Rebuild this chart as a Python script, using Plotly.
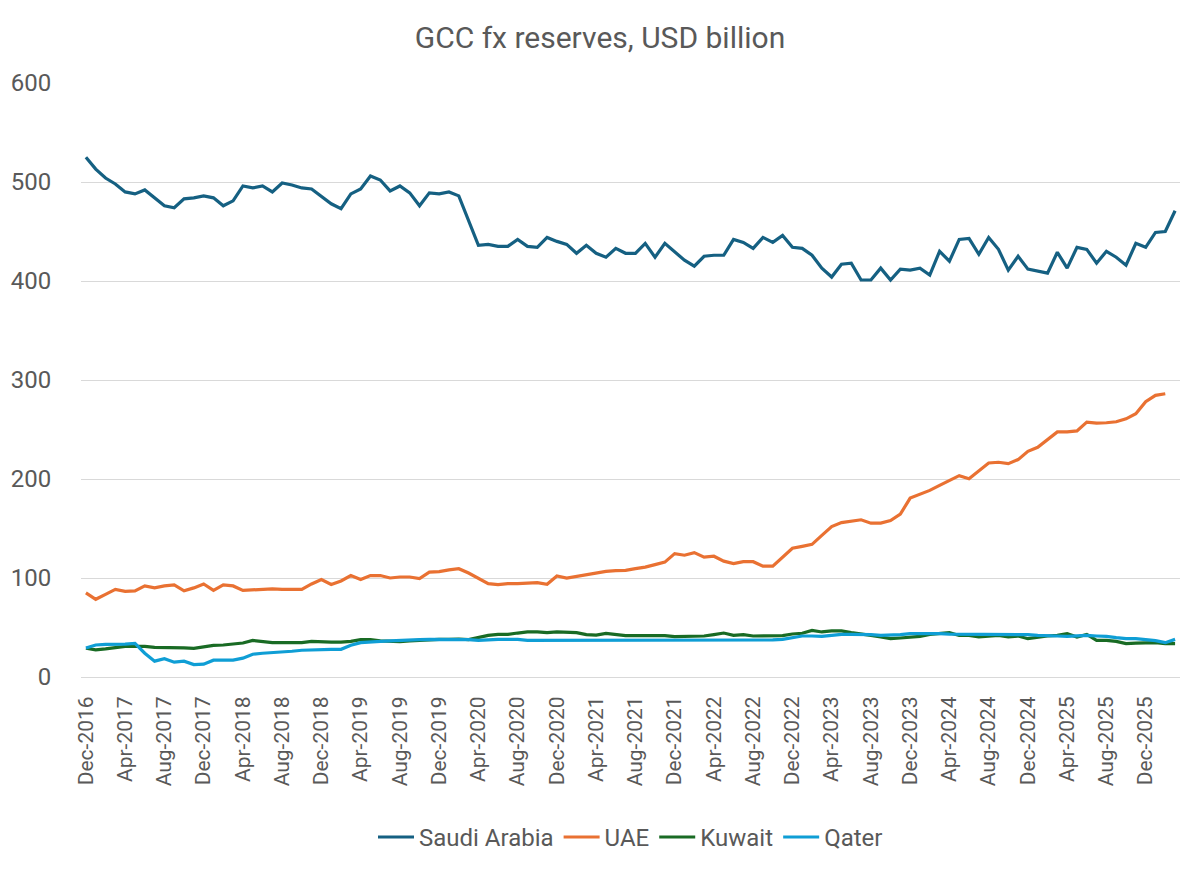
import pandas as pd
import plotly.graph_objects as go

# monthly observations, Dec-2016 .. Mar-2026
months = pd.date_range("2016-12-01", periods=112, freq="MS").strftime("%b-%Y").tolist()

saudi = [525, 513, 504, 498, 490, 488, 492, 484, 476, 474,
         483, 484, 486, 484, 476, 481, 496, 494, 496, 490,
         499, 497, 494, 493, 485, 478, 473, 488, 493, 506,
         502, 491, 496, 489, 476, 489, 488, 490, 486, 462,
         436, 437, 435, 435, 442, 435, 434, 444, 440, 437,
         428, 436, 428, 424, 433, 428, 428, 438, 424, 438,
         429, 421, 415, 425, 426, 426, 442, 439, 433, 444,
         439, 446, 434, 433, 426, 413, 404, 417, 418, 401,
         401, 413, 401, 412, 411, 413, 406, 430, 420, 442,
         443, 427, 444, 432, 411, 425, 412, 410, 408, 429,
         413, 434, 432, 418, 430, 424, 416, 438, 434, 449,
         450, 471]

uae = [85, 78.5, 83.5, 88.5, 86.5, 87, 92, 90, 92, 93,
       87, 90, 94, 87.5, 93, 92, 87.5, 88, 89, 89,
       88.5, 88.5, 88.5, 94, 98.5, 93.5, 97, 102.5, 98.5, 102.5,
       102.5, 100, 101, 101, 99.5, 106, 106.5, 108.2, 109.4, 105,
       99.3, 94.3, 93.3, 94.3, 94.3, 95, 95.3, 93.6, 102, 100,
       101.7, 103.7, 105, 106.7, 107.4, 107.7, 109.4, 111, 113.5, 116,
       124.6, 123, 125.6, 121, 122, 117, 114.5, 116.5, 116.5, 112,
       112, 120.5, 130, 132, 134, 143, 152, 156, 157, 158.8,
       155.4, 155.4, 158, 164.5, 180.7, 184.8, 188.5, 193.6, 198.3, 203.4,
       200.3, 207.8, 216.2, 216.9, 215.5, 219.6, 228, 232, 239.9, 247.6,
       247.6, 248.6, 257.4, 256.4, 256.8, 257.8, 260.8, 265.9, 278, 284.5,
       286.1]

kuwait = [29, 27.5, 28.5, 29.5, 31, 31, 31, 30, 30, 30,
          29.5, 29, 30.5, 32, 32.3, 33.3, 34.3, 37, 36, 34.7,
          34.7, 34.7, 34.7, 36, 35.3, 35.3, 35.3, 36, 37.7, 37.7,
          36.4, 35.7, 35.7, 36.4, 37, 38, 38, 38, 38.4, 37.7,
          39.7, 42, 43, 43, 44.4, 45.5, 45.5, 44.8, 45.5, 44.8,
          44.8, 42.8, 42.4, 44, 43, 41.8, 41.8, 41.8, 41.8, 41.8,
          40.7, 41, 41.8, 41.4, 42.8, 44.4, 42, 42.8, 41.4, 41.4,
          41, 41.8, 43.4, 44.2, 47, 45.5, 46.5, 46.5, 44.8, 43,
          42, 40.4, 38.7, 39.4, 40.4, 41, 43, 43.8, 44.8, 42,
          42, 40.4, 41.4, 42, 40.4, 41.4, 38.7, 40.4, 41.4, 42,
          43.8, 40.4, 43, 37, 37, 36, 33.7, 34.3, 34.3, 34.7,
          33.7, 33.7]

qatar = [29.3, 32.3, 33, 33, 33.3, 34, 24, 16, 18.5, 15,
         16, 12.5, 13, 17, 17, 17, 19, 23, 24, 24.5,
         25.5, 26, 27, 27.5, 28, 28, 28, 32, 34.7, 35.7,
         36, 36.4, 37, 37.7, 37.7, 38, 38, 38, 38, 37.7,
         37, 37.7, 38, 38, 38, 37, 37, 37, 37, 37,
         37, 37, 37, 37, 37, 37, 37, 37, 37, 37,
         37, 37, 37, 37.7, 37.4, 37.4, 37.7, 37.4, 37.4, 37.4,
         37.4, 38, 39.4, 41.4, 41.4, 41, 42, 43, 43, 43,
         42.8, 42, 42, 42.8, 43.8, 44, 44.4, 43.8, 43.4, 43.4,
         43.4, 43.4, 43.4, 43.4, 42.8, 43, 42.8, 42, 42, 41.4,
         41, 41.4, 42, 41.4, 41, 39.7, 38.7, 38.7, 38, 36.7,
         34.7, 38]

series = [("Saudi Arabia", saudi, "#156082"),
          ("UAE", uae, "#E97132"),
          ("Kuwait", kuwait, "#196B24"),
          ("Qater", qatar, "#0F9ED5")]

fig = go.Figure()
for name, vals, col in series:
    fig.add_trace(go.Scatter(x=months[:len(vals)], y=vals, name=name, mode="lines",
                             line=dict(color=col, width=3.2)))

fig.update_layout(
    width=1200, height=872,
    paper_bgcolor="white", plot_bgcolor="white",
    font=dict(family="Roboto, Arial, sans-serif", color="#595959"),
    title=dict(text="GCC fx reserves, USD billion", x=0.5, xanchor="center",
               y=0.957, yanchor="middle", font=dict(size=30, color="#595959")),
    margin=dict(l=81, r=20, t=83, b=195),
    legend=dict(orientation="h", x=0.5, xanchor="center", y=-0.27, yanchor="middle",
                font=dict(size=24, color="#595959"), itemwidth=36),
    showlegend=True,
)
fig.update_xaxes(type="category", categoryorder="array", categoryarray=months,
                 range=[-0.5, len(months) - 0.5],
                 tickmode="array", tickvals=months[::4], ticktext=months[::4],
                 tickangle=-90, tickfont=dict(size=21, color="#595959"),
                 showgrid=False, showline=True, linecolor="#D9D9D9", linewidth=1,
                 ticks="outside", ticklen=10, tickcolor="rgba(0,0,0,0)")
fig.update_yaxes(range=[0, 600], dtick=100, showgrid=True, gridcolor="#D9D9D9",
                 gridwidth=1, zeroline=False, showline=False,
                 tickfont=dict(size=24, color="#595959"),
                 ticks="outside", ticklen=24, tickcolor="rgba(0,0,0,0)")

# page body margin would shift the chart off the 1200x872 frame
fig.write_html("out.html", config={"displayModeBar": False},
               post_script="document.body.style.margin='0';")
